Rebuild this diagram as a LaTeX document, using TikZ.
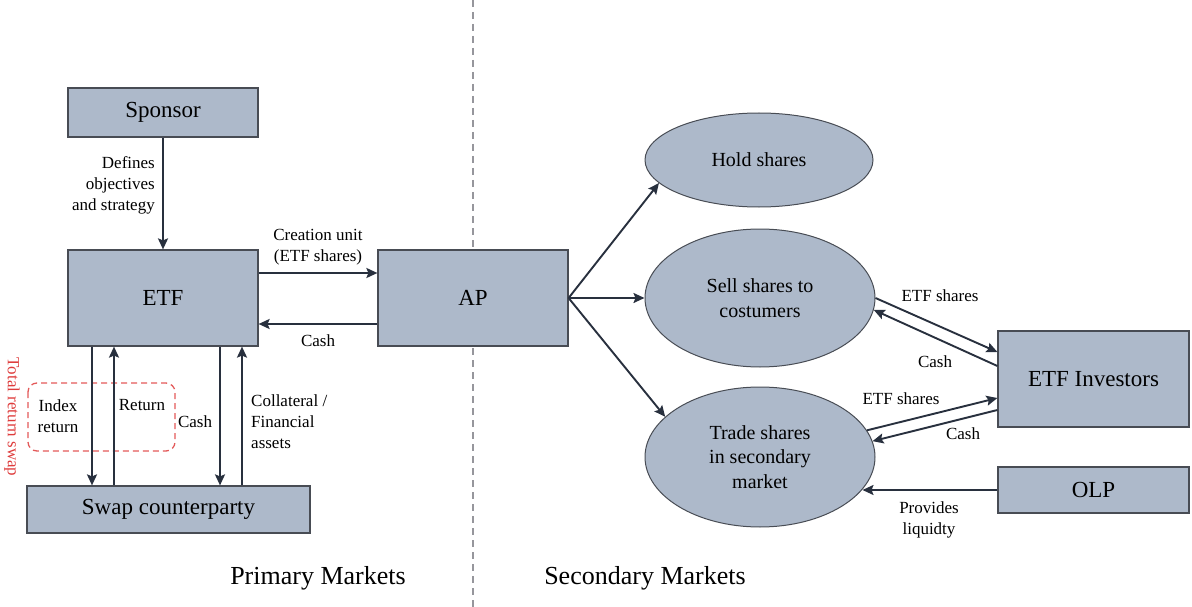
\documentclass[tikz,border=0pt]{standalone}
\usepackage{fontspec}
\setmainfont{Liberation Serif}
\usetikzlibrary{shapes.geometric,arrows.meta}
\definecolor{boxfill}{RGB}{173,185,202}
\definecolor{boxline}{RGB}{72,76,84}
\definecolor{arrowcol}{RGB}{40,48,62}
\definecolor{swapred}{RGB}{222,60,60}
\definecolor{divcol}{RGB}{150,150,156}
\begin{document}
\begin{tikzpicture}[x=1pt,y=-1pt,
  actor/.style={draw=boxline,line width=1.2pt,fill=boxfill,rectangle,inner sep=0pt,
    font=\fontsize{23}{27}\selectfont},
  choice/.style={draw=boxline,line width=1pt,fill=boxfill,ellipse,inner sep=0pt,align=center,
    font=\fontsize{20}{24.5}\selectfont},
  flow/.style={draw=arrowcol,line width=1.9pt,-{Stealth[length=11pt,width=10pt,inset=2pt]}},
  lbl/.style={inner sep=0pt,align=center,font=\fontsize{17}{21}\selectfont},
  footer/.style={inner sep=0pt,font=\fontsize{26}{30}\selectfont},
  divider/.style={draw=divcol,line width=1.3pt,dash pattern=on 7pt off 5pt},
  swapbox/.style={draw=swapred!85!white,line width=1.3pt,dash pattern=on 6pt off 4pt,rounded corners=9pt}]
\useasboundingbox (0,0) rectangle (1192,607);

% split between primary and secondary markets
\coordinate (divtop) at (473,0);
\coordinate (divbot) at (473,607);
\draw[divider] (divtop) -- (divbot);

% primary market actors
\node[actor,minimum width=190pt,minimum height=49pt] (sponsor) at (163,112.5) {Sponsor};
\node[actor,minimum width=190pt,minimum height=96pt] (etf) at (163,298) {ETF};
\node[actor,minimum width=190pt,minimum height=96pt] (ap) at (473,298) {AP};
\node[actor,minimum width=283pt,minimum height=47pt] (swap) at (168.5,509.5) {Swap counterparty};

% secondary market outcomes
\node[choice,minimum width=228pt,minimum height=94pt] (hold) at (759,160) {Hold shares};
\node[choice,minimum width=230pt,minimum height=138pt] (sell) at (760,298) {Sell shares to\\costumers};
\node[choice,minimum width=230pt,minimum height=140pt] (trade) at (760,457) {Trade shares\\in secondary\\market};
\node[actor,minimum width=191pt,minimum height=96pt] (investors) at (1093.5,379) {ETF Investors};
\node[actor,minimum width=191pt,minimum height=46pt] (olp) at (1093.5,490) {OLP};

% sponsor to ETF
\draw[flow] (sponsor) -- (etf);
\node[lbl,anchor=east,align=right] (defines) at (155,185) {Defines\\objectives\\and strategy};

% ETF and AP exchange
\draw[flow] ([yshift=25pt]etf.east) -- ([yshift=25pt]ap.west);
\draw[flow] ([yshift=-26pt]ap.west) -- ([yshift=-26pt]etf.east);
\node[lbl] (creation) at (318,247) {Creation unit\\(ETF shares)};
\node[lbl] (apcash) at (318,341) {Cash};

% total return swap legs
\draw[swapbox] (28,383) rectangle (175,451);
\draw[flow] ([xshift=-71pt]etf.south) -- ([xshift=-71pt]etf.south |- swap.north);
\draw[flow] ([xshift=-49pt]etf.south |- swap.north) -- ([xshift=-49pt]etf.south);
\draw[flow] ([xshift=57pt]etf.south) -- ([xshift=57pt]etf.south |- swap.north);
\draw[flow] ([xshift=79pt]etf.south |- swap.north) -- ([xshift=79pt]etf.south);
\node[lbl] (idx) at (58,416) {Index\\return};
\node[lbl] (ret) at (142,405) {Return};
\node[lbl] (swcash) at (195,422) {Cash};
\node[lbl,anchor=west,align=left] (coll) at (251,422) {Collateral /\\Financial\\assets};
\node[lbl,text=swapred,rotate=-90] (trs) at (12,417) {Total return swap};

% AP choices
\draw[flow] (ap.east) -- (hold.193);
\draw[flow] (ap.east) -- (sell.west);
\draw[flow] (ap.east) -- (trade.157);

% investors
\draw[flow] (sell.east) -- ([yshift=27pt]investors.west);
\draw[flow] ([yshift=13pt]investors.west) -- (sell.-6);
\node[lbl] (sellshares) at (940,296) {ETF shares};
\node[lbl] (sellcash) at (935,362) {Cash};
\draw[flow] (trade.14) -- ([yshift=-19pt]investors.west);
\draw[flow] ([yshift=-31pt]investors.west) -- (trade.8);
\node[lbl] (tradeshares) at (901,399) {ETF shares};
\node[lbl] (tradecash) at (963,434) {Cash};
\coordinate (liqend) at ([xshift=-13pt]olp.west -| trade.east);
\draw[flow] (olp.west) -- (liqend);
\node[lbl] (liq) at (929,520) {Provides\\liquidty};

% market headings
\node[footer] (primary) at (318,578) {Primary Markets};
\node[footer] (secondary) at (645,578) {Secondary Markets};
\end{tikzpicture}
\end{document}
